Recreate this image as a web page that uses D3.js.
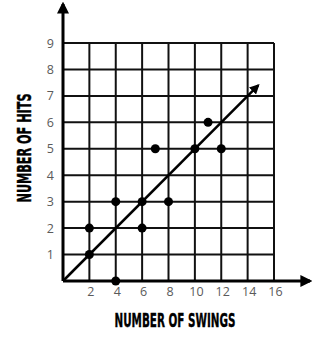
<!DOCTYPE html>
<html>
<head>
<meta charset="utf-8">
<script src="https://cdn.jsdelivr.net/npm/d3@7"></script>
<style>
  body { margin: 0; background: #fff; }
</style>
</head>
<body>
<div id="chart"></div>
<script>
var swings = [2, 2, 4, 4, 6, 6, 7, 8, 10, 11, 12];
var hits = [1, 2, 3, 0, 3, 2, 5, 3, 5, 6, 5];
var xTicks = [2, 4, 6, 8, 10, 12, 14, 16];
var yTicks = [1, 2, 3, 4, 5, 6, 7, 8, 9];
var trendX = [0, 14.8];
var trendY = [0, 7.4];

var width = 323, height = 342;

var x = d3.scaleLinear().domain([0, 16]).range([63, 274]);
var y = d3.scaleLinear().domain([0, 9]).range([281, 43]);

var svg = d3.select('#chart').append('svg')
  .attr('width', width)
  .attr('height', height);

var defs = svg.append('defs');
defs.append('marker')
  .attr('id', 'arrow')
  .attr('viewBox', '0 0 10 10')
  .attr('refX', 8).attr('refY', 5)
  .attr('markerWidth', 4).attr('markerHeight', 4)
  .attr('markerUnits', 'strokeWidth')
  .attr('orient', 'auto')
  .append('path')
  .attr('d', 'M0,0 L10,5 L0,10 Z')
  .attr('fill', '#000');

// grid
var gridX = d3.range(0, 17, 2);
var gridY = d3.range(0, 10, 1);

svg.append('g').selectAll('line').data(gridX).enter().append('line')
  .attr('x1', function(d){ return x(d); })
  .attr('x2', function(d){ return x(d); })
  .attr('y1', y(0)).attr('y2', y(9))
  .attr('stroke', '#111').attr('stroke-width', 2);

svg.append('g').selectAll('line').data(gridY).enter().append('line')
  .attr('y1', function(d){ return y(d); })
  .attr('y2', function(d){ return y(d); })
  .attr('x1', x(0)).attr('x2', x(16))
  .attr('stroke', '#111').attr('stroke-width', 2);

// axes with arrows
svg.append('line')
  .attr('x1', x(0)).attr('y1', y(0))
  .attr('x2', 310).attr('y2', y(0))
  .attr('stroke', '#000').attr('stroke-width', 3)
  .attr('marker-end', 'url(#arrow)');

svg.append('line')
  .attr('x1', x(0)).attr('y1', y(0))
  .attr('x2', x(0)).attr('y2', 4)
  .attr('stroke', '#000').attr('stroke-width', 3)
  .attr('marker-end', 'url(#arrow)');

// tick labels
var xAxis = svg.append('g')
  .attr('transform', 'translate(1,' + (y(0) + 6) + ')')
  .call(d3.axisBottom(x).tickValues(xTicks).tickSize(0).tickPadding(0));
xAxis.select('.domain').remove();
xAxis.selectAll('text')
  .attr('font-family', '"Open Sans", sans-serif')
  .attr('font-size', 12.5).attr('dy', '0.71em')
  .attr('fill', '#5a5a5a');

var yAxis = svg.append('g')
  .attr('transform', 'translate(' + (x(0) - 9) + ',0)')
  .call(d3.axisLeft(y).tickValues(yTicks).tickSize(0).tickPadding(0));
yAxis.select('.domain').remove();
yAxis.selectAll('text')
  .attr('font-family', '"Open Sans", sans-serif')
  .attr('font-size', 12.5)
  .attr('fill', '#5a5a5a');

// trend line
svg.append('line')
  .attr('x1', x(trendX[0])).attr('y1', y(trendY[0]))
  .attr('x2', x(trendX[1])).attr('y2', y(trendY[1]))
  .attr('stroke', '#000').attr('stroke-width', 2.5)
  .attr('marker-end', 'url(#arrow)');

// points
svg.append('g').selectAll('circle').data(swings).enter().append('circle')
  .attr('cx', function(d){ return x(d); })
  .attr('cy', function(d, i){ return y(hits[i]); })
  .attr('r', 4.5)
  .attr('fill', '#000');

// axis titles
svg.append('text')
  .attr('x', 175).attr('y', 327)
  .attr('text-anchor', 'middle')
  .attr('font-family', '"Liberation Sans Narrow", "DejaVu Sans Condensed", sans-serif')
  .attr('font-weight', 'bold')
  .attr('font-size', 20)
  .attr('stroke', '#000').attr('stroke-width', 0.4)
  .attr('textLength', 121)
  .attr('lengthAdjust', 'spacingAndGlyphs')
  .text('NUMBER OF SWINGS');

svg.append('text')
  .attr('transform', 'translate(31,148) rotate(-90)')
  .attr('text-anchor', 'middle')
  .attr('font-family', '"Liberation Sans Narrow", "DejaVu Sans Condensed", sans-serif')
  .attr('font-weight', 'bold')
  .attr('font-size', 20)
  .attr('stroke', '#000').attr('stroke-width', 0.4)
  .attr('textLength', 109)
  .attr('lengthAdjust', 'spacingAndGlyphs')
  .text('NUMBER OF HITS');
</script>
</body>
</html>
